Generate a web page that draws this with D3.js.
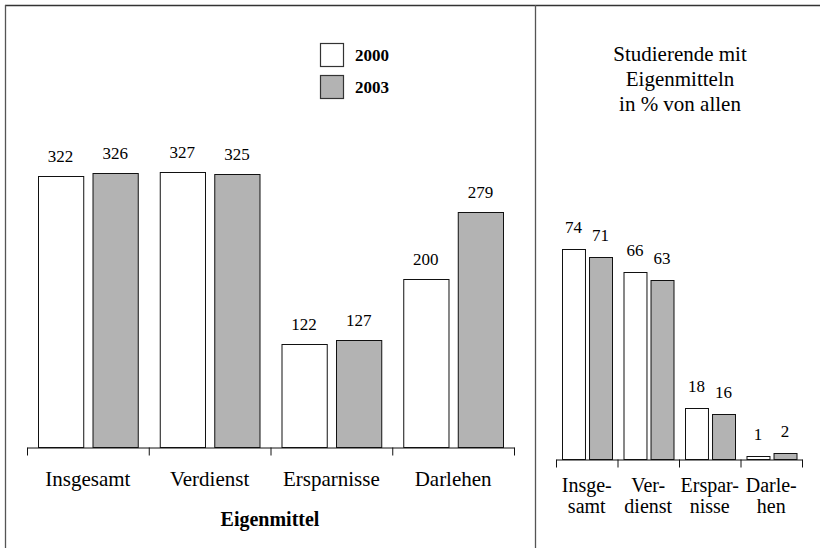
<!DOCTYPE html>
<html><head><meta charset="utf-8">
<script src="https://cdn.jsdelivr.net/npm/d3@7"></script>
<style>body{margin:0;background:#fff}</style>
</head><body>
<svg id="c" width="820" height="548" font-family="'Liberation Serif', 'Times New Roman', serif"></svg>
<script>
const categories = ["Insgesamt","Verdienst","Ersparnisse","Darlehen"];
const series = ["2000","2003"];
const amount2000 = [322,327,122,200];
const amount2003 = [326,325,127,279];
const share2000 = [74,66,18,1];
const share2003 = [71,63,16,2];
const shortLabels = [["Insge-","samt"],["Ver-","dienst"],["Erspar-","nisse"],["Darle-","hen"]];
const xTitle = "Eigenmittel";
const rightTitle = ["Studierende mit","Eigenmitteln","in % von allen"];

const colors = d3.scaleOrdinal().domain(series).range(["#ffffff","#b3b3b3"]);
const svg = d3.select("#c");

// frame
svg.append("line").attr("x1",5).attr("x2",820).attr("y1",5.5).attr("y2",5.5).attr("stroke","#333").attr("stroke-width",1.3);
svg.append("line").attr("x1",5.5).attr("x2",5.5).attr("y1",5).attr("y2",548).attr("stroke","#555").attr("stroke-width",1.3);
svg.append("line").attr("x1",535.5).attr("x2",535.5).attr("y1",5).attr("y2",548).attr("stroke","#555").attr("stroke-width",1.3);

function panel(cfg){
  const g = svg.append("g");
  const x = d3.scaleBand().domain(categories).range([cfg.x0,cfg.x1]).padding(0);
  const xb = d3.scaleLinear().domain([0,categories.length]).range([cfg.x0,cfg.x1]);
  const x1 = d3.scaleBand().domain(series).range(cfg.inner).paddingInner(cfg.pin);
  const y = d3.scaleLinear().domain([0,cfg.ymax]).range([cfg.base, cfg.base - cfg.ymax*cfg.ppu]);
  const data = categories.map((c,i)=>({c, vals:[{s:"2000",v:cfg.a[i]},{s:"2003",v:cfg.b[i]}]}));
  const cg = g.selectAll("g.cat").data(data).join("g").attr("transform",d=>`translate(${x(d.c)},0)`);
  cg.selectAll("rect").data(d=>d.vals).join("rect")
    .attr("x",d=>x1(d.s)+0.5).attr("width",x1.bandwidth())
    .attr("y",d=>Math.round(y(d.v))+0.5).attr("height",d=>cfg.base-Math.round(y(d.v)))
    .attr("fill",d=>colors(d.s)).attr("stroke","#111").attr("stroke-width",1);
  cg.selectAll("text.v").data(d=>d.vals).join("text").attr("class","v")
    .attr("x",d=>x1(d.s)+x1.bandwidth()/2).attr("y",d=>y(d.v)-cfg.lblOff)
    .attr("text-anchor","middle").attr("font-size",cfg.vfs).text(d=>d.v);
  const ax = g.append("g").attr("transform",`translate(0,${cfg.base+0.5})`)
    .call(d3.axisBottom(xb).tickValues(d3.range(categories.length+1)).tickFormat("").tickSize(cfg.tick).tickSizeOuter(0));
  ax.select(".domain").attr("stroke","#111");
  ax.selectAll(".tick line").attr("stroke","#111");
  return {g,x};
}

const L = panel({x0:27,x1:514,inner:[11,110.75],pin:0.17,base:447,ymax:400,ppu:0.841,a:amount2000,b:amount2003,lblOff:14,vfs:17,tick:8});
L.g.selectAll("text.cl").data(categories).join("text").attr("class","cl")
  .attr("x",d=>L.x(d)+L.x.bandwidth()/2).attr("y",486).attr("text-anchor","middle")
  .attr("font-size",21).text(d=>d);
L.g.append("text").attr("x",270).attr("y",526).attr("text-anchor","middle")
  .attr("font-size",20).attr("font-weight","bold").text(xTitle);

// legend
const lg = svg.append("g");
series.forEach((s,i)=>{
  lg.append("rect").attr("x",320.5).attr("y",43.5+i*32).attr("width",23).attr("height",23)
    .attr("fill",colors(s)).attr("stroke","#333").attr("stroke-width",1.2);
  lg.append("text").attr("x",355).attr("y",61+i*32).attr("font-size",17).attr("font-weight","bold").text(s);
});

const R = panel({x0:556,x1:802,inner:[6,56],pin:0.15,base:459,ymax:100,ppu:2.84,a:share2000,b:share2003,lblOff:16,vfs:17,tick:8});
R.g.selectAll("text.cl").data(categories).join("text").attr("class","cl")
  .attr("x",d=>R.x(d)+R.x.bandwidth()/2).attr("text-anchor","middle").attr("font-size",20)
  .each(function(d,i){
    d3.select(this).selectAll("tspan").data(shortLabels[i]).join("tspan")
      .attr("x",R.x(d)+R.x.bandwidth()/2).attr("y",(t,j)=>492+j*21).text(t=>t);
  });
svg.append("text").attr("text-anchor","middle").attr("font-size",21)
  .selectAll("tspan").data(rightTitle).join("tspan")
  .attr("x",680).attr("y",(t,j)=>61+j*25).text(t=>t);
</script>
</body></html>
